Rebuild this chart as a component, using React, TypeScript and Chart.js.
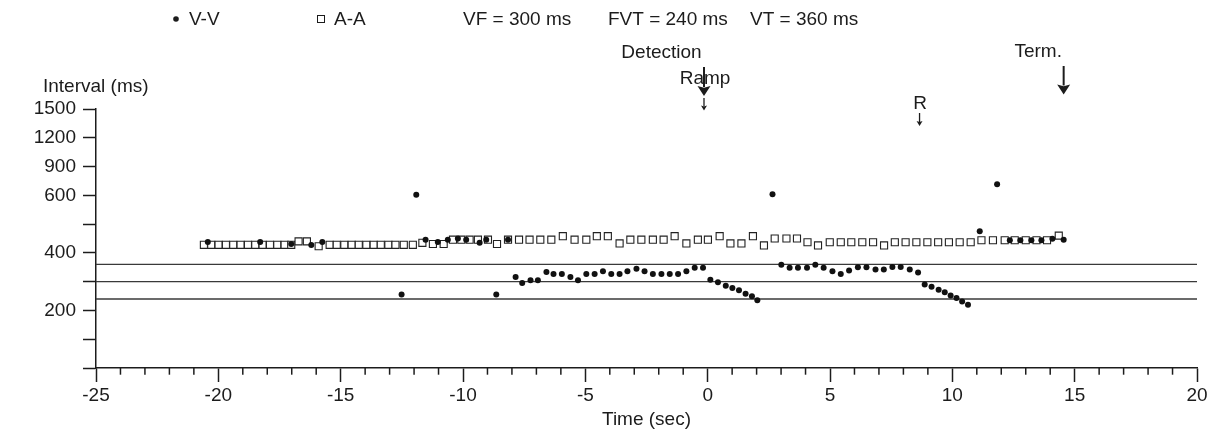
import React, { useEffect, useRef } from 'react';
import { Chart, registerables } from 'chart.js';

Chart.register(...registerables);

const FONT = '"Liberation Sans", Arial, Helvetica, sans-serif';
const INK = '#1c1c1c';

// ---- axes ----
const xMin = -25;
const xMax = 20;
const xMajorStep = 5;
const xMinorStep = 1;

const yTickValues = [0, 100, 200, 300, 400, 500, 600, 900, 1200, 1500];
const yTickLabels = ['', '', '200', '', '400', '', '600', '900', '1200', '1500'];

const xTitle = 'Time (sec)';
const yTitle = 'Interval (ms)';

// ---- series ----
const seriesNames = ['V-V', 'A-A'];

const aaTimes = [
  -20.59, -20.29, -19.99, -19.69, -19.39, -19.09, -18.79, -18.49, -18.19, -17.89,
  -17.59, -17.29, -17.02, -16.72, -16.38, -15.9, -15.45, -15.16, -14.85, -14.55,
  -14.26, -13.95, -13.65, -13.36, -13.05, -12.76, -12.42, -12.05, -11.66, -11.23,
  -10.79, -10.41, -10.07, -9.73, -9.39, -8.98, -8.61, -8.16, -7.71, -7.28,
  -6.84, -6.39, -5.92, -5.44, -4.96, -4.53, -4.08, -3.6, -3.16, -2.71,
  -2.24, -1.8, -1.35, -0.87, -0.4, 0.01, 0.49, 0.93, 1.38, 1.85,
  2.3, 2.74, 3.22, 3.65, 4.08, 4.51, 4.99, 5.44, 5.87, 6.32,
  6.76, 7.21, 7.65, 8.09, 8.53, 8.98, 9.42, 9.86, 10.3, 10.75,
  11.19, 11.66, 12.14, 12.55, 13.0, 13.44, 13.87, 14.35,
];
const aaValues = [
  428, 428, 428, 428, 428, 428, 428, 428, 428, 428,
  428, 428, 428, 440, 440, 423, 428, 428, 428, 428,
  428, 428, 428, 428, 428, 428, 428, 428, 435, 431,
  431, 446, 446, 446, 446, 446, 431, 446, 446, 446,
  446, 446, 458, 446, 446, 458, 458, 433, 446, 446,
  446, 446, 458, 433, 446, 446, 458, 433, 433, 458,
  426, 450, 450, 450, 437, 426, 437, 437, 437, 437,
  437, 426, 437, 437, 437, 437, 437, 437, 437, 437,
  444, 444, 444, 444, 444, 444, 444, 460,
];

const vvTimes = [
  -20.43, -18.29, -17.02, -16.2, -15.75, -12.51, -11.91, -11.53, -11.03, -10.62,
  -10.21, -9.87, -9.32, -9.05, -8.64, -8.16, -7.85, -7.58, -7.24, -6.94,
  -6.59, -6.3, -5.96, -5.61, -5.3, -4.96, -4.62, -4.28, -3.94, -3.6,
  -3.28, -2.91, -2.58, -2.24, -1.89, -1.55, -1.21, -0.87, -0.53, -0.19,
  0.11, 0.42, 0.74, 1.01, 1.28, 1.55, 1.81, 2.03, 2.65, 3.01,
  3.35, 3.69, 4.06, 4.4, 4.74, 5.1, 5.44, 5.78, 6.14, 6.49,
  6.86, 7.2, 7.55, 7.89, 8.26, 8.6, 8.87, 9.15, 9.44, 9.69,
  9.93, 10.17, 10.4, 10.64, 11.12, 11.83, 12.35, 12.78, 13.23, 13.64,
  14.09, 14.55,
];
const vvValues = [
  438, 438, 431, 427, 438, 255, 605, 446, 438, 446,
  450, 446, 435, 446, 255, 446, 316, 295, 305, 305,
  334, 327, 327, 316, 305, 327, 327, 336, 327, 327,
  336, 345, 336, 327, 327, 327, 327, 336, 348, 348,
  307, 298, 286, 278, 270, 258, 249, 235, 610, 359,
  348, 348, 348, 359, 348, 336, 327, 339, 350, 350,
  342, 342, 351, 351, 342, 332, 290, 282, 272, 263,
  252, 243, 231, 220, 475, 715, 444, 444, 444, 444,
  449, 446,
];

// ---- detection zones ----
const thresholdNames = ['VF', 'FVT', 'VT'];
const thresholdValues = [300, 240, 360];

// ---- event markers ----
const markerLabels = ['Detection', 'Ramp', 'R', 'Term.'];
const markerTimes = [-0.15, -0.15, 8.66, 14.55];

// piecewise interval axis: 100 ms per step up to 600 ms, 300 ms per step above
function toAxis(v: number): number {
  return v <= 600 ? v / 100 : 6 + (v - 600) / 300;
}

function drawArrow(
  ctx: CanvasRenderingContext2D,
  x: number,
  yTop: number,
  yTip: number,
  headH: number,
  headW: number,
  lw: number
) {
  ctx.lineWidth = lw;
  ctx.beginPath();
  ctx.moveTo(x, yTop);
  ctx.lineTo(x, yTip - headH + 1);
  ctx.stroke();
  ctx.beginPath();
  ctx.moveTo(x - headW, yTip - headH);
  ctx.lineTo(x, yTip - headH + headH * 0.18);
  ctx.lineTo(x + headW, yTip - headH);
  ctx.lineTo(x, yTip);
  ctx.closePath();
  ctx.fill();
}

const overlayPlugin = {
  id: 'overlay',
  afterDraw(chart: any) {
    const ctx: CanvasRenderingContext2D = chart.ctx;
    const xs = chart.scales.x;
    const area = chart.chartArea;
    ctx.save();
    ctx.strokeStyle = INK;
    ctx.fillStyle = INK;

    // minor x ticks
    ctx.lineWidth = 1.5;
    for (let t = xMin; t <= xMax; t += xMinorStep) {
      if (t % xMajorStep === 0) continue;
      const px = xs.getPixelForValue(t);
      ctx.beginPath();
      ctx.moveTo(px, area.bottom);
      ctx.lineTo(px, area.bottom + 6.7);
      ctx.stroke();
    }

    ctx.font = `19px ${FONT}`;
    ctx.textBaseline = 'alphabetic';

    // axis titles
    ctx.textAlign = 'left';
    ctx.fillText(yTitle, 43, 92);
    ctx.textAlign = 'center';
    ctx.fillText(xTitle, (area.left + area.right) / 2, 425);

    // legend row
    ctx.textAlign = 'left';
    ctx.beginPath();
    ctx.arc(176, 19, 2.8, 0, Math.PI * 2);
    ctx.fill();
    ctx.fillText(seriesNames[0], 189, 25);
    ctx.lineWidth = 1;
    ctx.fillStyle = '#fff';
    ctx.fillRect(317.5, 15.5, 7, 7);
    ctx.strokeRect(317.5, 15.5, 7, 7);
    ctx.fillStyle = INK;
    ctx.fillText(seriesNames[1], 334, 25);
    const zoneX = [463, 608, 750];
    thresholdNames.forEach((n, i) => {
      ctx.fillText(`${n} = ${thresholdValues[i]} ms`, zoneX[i], 25);
    });

    // event markers
    ctx.textAlign = 'center';
    const mx = markerTimes.map((t) => xs.getPixelForValue(t));
    ctx.fillText(markerLabels[0], mx[0] - 42.5, 57.5);
    ctx.fillText(markerLabels[1], mx[1] + 1, 84);
    ctx.fillText(markerLabels[2], mx[2] + 0.5, 109);
    ctx.fillText(markerLabels[3], mx[3] - 25.5, 57);

    drawArrow(ctx, mx[1], 67, 96, 10, 6.5, 2);
    drawArrow(ctx, mx[1], 98, 110.5, 5, 3, 1.3);
    drawArrow(ctx, mx[2], 113, 126, 5, 3, 1.3);
    drawArrow(ctx, mx[3], 66, 94.5, 10, 6.5, 2);

    ctx.restore();
  },
};

export default function App() {
  const ref = useRef<HTMLCanvasElement>(null);

  useEffect(() => {
    if (!ref.current) return;
    const vvData = vvTimes.map((t, i) => ({ x: t, y: toAxis(vvValues[i]) }));
    const aaData = aaTimes.map((t, i) => ({ x: t, y: toAxis(aaValues[i]) }));
    const zoneSets = thresholdValues.map((v, i) => ({
      type: 'line' as const,
      label: thresholdNames[i],
      data: [
        { x: xMin, y: toAxis(v) },
        { x: xMax, y: toAxis(v) },
      ],
      borderColor: '#3a3a3a',
      borderWidth: 1.4,
      pointRadius: 0,
      fill: false,
      order: 2,
    }));

    const chart = new Chart(ref.current, {
      type: 'scatter',
      data: {
        datasets: [
          {
            label: seriesNames[0],
            data: vvData,
            pointStyle: 'circle',
            pointRadius: 3,
            pointBackgroundColor: '#111',
            pointBorderColor: '#111',
            pointBorderWidth: 0,
            order: 0,
          },
          {
            label: seriesNames[1],
            data: aaData,
            pointStyle: 'rect',
            pointRadius: 5,
            pointBackgroundColor: '#fff',
            pointBorderColor: '#222',
            pointBorderWidth: 1.1,
            order: 1,
          },
          ...zoneSets,
        ] as any,
      },
      options: {
        animation: false,
        responsive: true,
        maintainAspectRatio: false,
        layout: { padding: { left: 0, right: 17, top: 109, bottom: 0 } },
        plugins: {
          legend: { display: false },
          tooltip: { enabled: false },
          title: { display: false },
        },
        events: [],
        scales: {
          x: {
            type: 'linear',
            position: 'bottom',
            min: xMin,
            max: xMax,
            ticks: {
              stepSize: xMajorStep,
              color: INK,
              font: { family: FONT, size: 19 },
              padding: 2,
              maxRotation: 0,
              autoSkip: false,
              callback: (v: any) => String(v),
            },
            grid: {
              display: true,
              drawOnChartArea: false,
              drawTicks: true,
              tickLength: 14,
              tickColor: INK,
              tickWidth: 1.5,
            },
            border: { display: true, color: INK, width: 1.5 },
            afterFit: (s: any) => {
              s.height = 64;
            },
          },
          y: {
            type: 'linear',
            min: 0,
            max: toAxis(1500),
            afterBuildTicks: (s: any) => {
              s.ticks = yTickValues.map((v) => ({ value: toAxis(v) }));
            },
            ticks: {
              color: INK,
              font: { family: FONT, size: 19 },
              padding: 7,
              autoSkip: false,
              callback: (value: any) => {
                const i = yTickValues.findIndex((v) => Math.abs(toAxis(v) - Number(value)) < 1e-6);
                return i >= 0 ? yTickLabels[i] : '';
              },
            },
            grid: {
              display: true,
              drawOnChartArea: false,
              drawTicks: true,
              tickLength: 13,
              tickColor: INK,
              tickWidth: 1.5,
            },
            border: { display: true, color: INK, width: 1.5 },
            afterFit: (s: any) => {
              s.width = 96;
            },
          },
        },
      } as any,
      plugins: [overlayPlugin],
    });

    return () => chart.destroy();
  }, []);

  return (
    <div style={{ position: 'fixed', left: 0, top: 0, width: 1214, height: 432, background: '#fff' }}>
      <canvas ref={ref} />
    </div>
  );
}
